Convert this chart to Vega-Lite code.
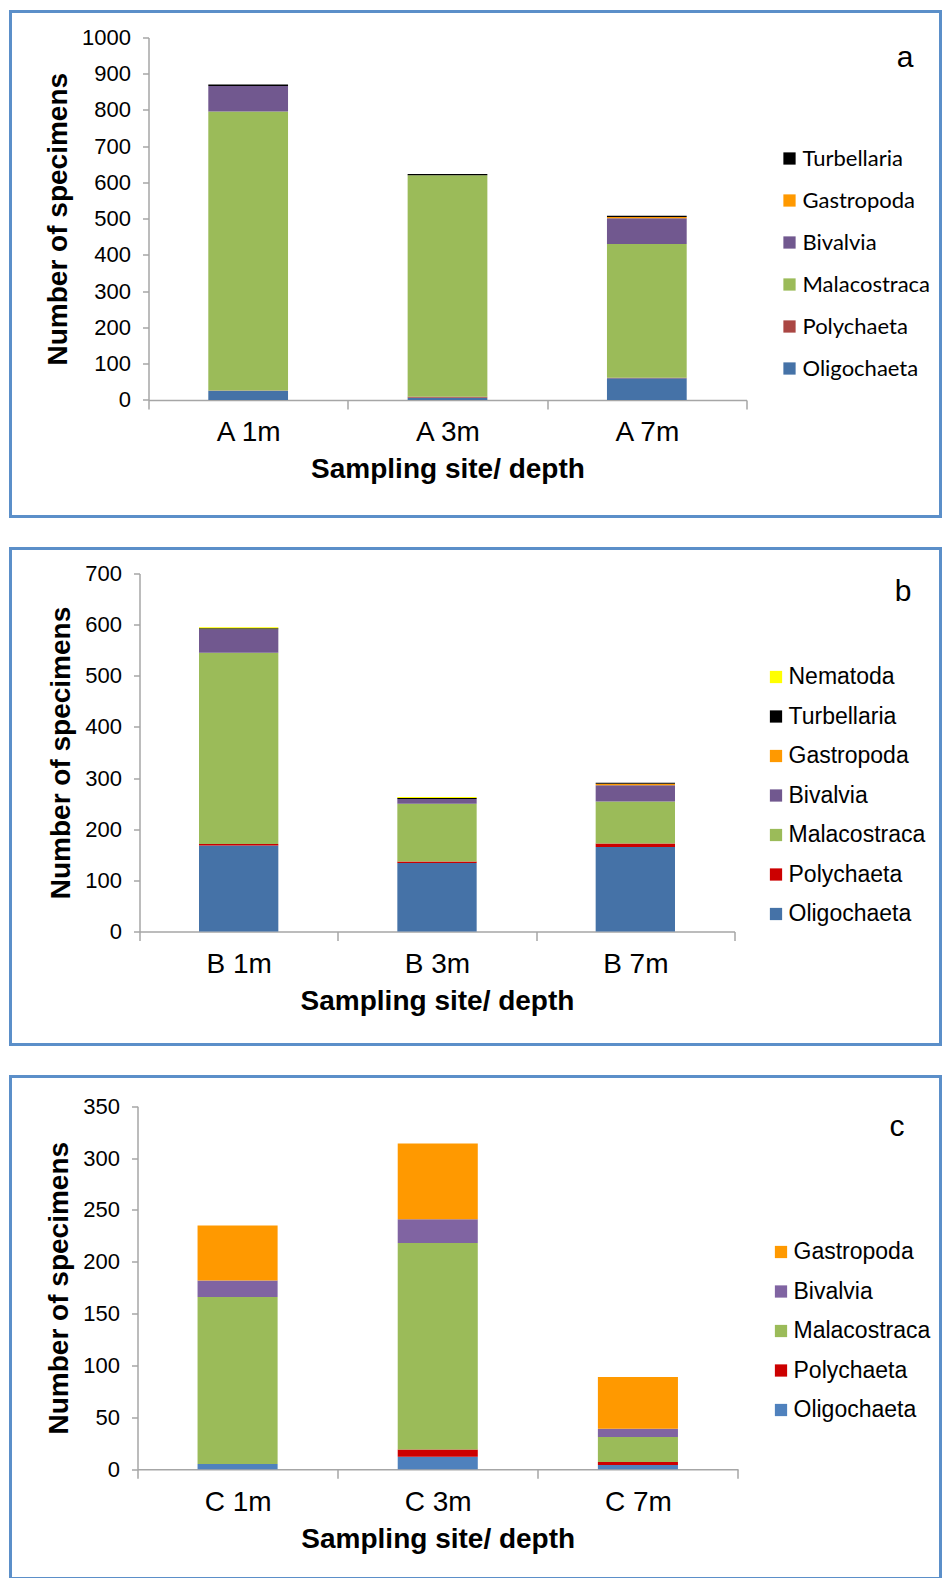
{
  "$schema": "https://vega.github.io/schema/vega-lite/v6.json",
  "background": "white",
  "padding": {"left": 8.5, "top": 9.5, "right": 0, "bottom": 0},
  "spacing": 28,
  "datasets": {
    "counts": [
      {"panel": "a", "site": "A 1m", "taxon": "Oligochaeta", "n": 25},
      {"panel": "a", "site": "A 1m", "taxon": "Polychaeta", "n": 1},
      {"panel": "a", "site": "A 1m", "taxon": "Malacostraca", "n": 770},
      {"panel": "a", "site": "A 1m", "taxon": "Bivalvia", "n": 70},
      {"panel": "a", "site": "A 1m", "taxon": "Turbellaria", "n": 4},
      {"panel": "a", "site": "A 3m", "taxon": "Oligochaeta", "n": 6},
      {"panel": "a", "site": "A 3m", "taxon": "Polychaeta", "n": 3},
      {"panel": "a", "site": "A 3m", "taxon": "Malacostraca", "n": 611},
      {"panel": "a", "site": "A 3m", "taxon": "Turbellaria", "n": 3},
      {"panel": "a", "site": "A 7m", "taxon": "Oligochaeta", "n": 60},
      {"panel": "a", "site": "A 7m", "taxon": "Polychaeta", "n": 1},
      {"panel": "a", "site": "A 7m", "taxon": "Malacostraca", "n": 369},
      {"panel": "a", "site": "A 7m", "taxon": "Bivalvia", "n": 71},
      {"panel": "a", "site": "A 7m", "taxon": "Gastropoda", "n": 4},
      {"panel": "a", "site": "A 7m", "taxon": "Turbellaria", "n": 3},

      {"panel": "b", "site": "B 1m", "taxon": "Oligochaeta", "n": 168},
      {"panel": "b", "site": "B 1m", "taxon": "Polychaeta", "n": 3},
      {"panel": "b", "site": "B 1m", "taxon": "Malacostraca", "n": 374},
      {"panel": "b", "site": "B 1m", "taxon": "Bivalvia", "n": 46},
      {"panel": "b", "site": "B 1m", "taxon": "Turbellaria", "n": 2},
      {"panel": "b", "site": "B 1m", "taxon": "Nematoda", "n": 2},
      {"panel": "b", "site": "B 3m", "taxon": "Oligochaeta", "n": 134},
      {"panel": "b", "site": "B 3m", "taxon": "Polychaeta", "n": 3},
      {"panel": "b", "site": "B 3m", "taxon": "Malacostraca", "n": 113},
      {"panel": "b", "site": "B 3m", "taxon": "Bivalvia", "n": 9},
      {"panel": "b", "site": "B 3m", "taxon": "Turbellaria", "n": 2},
      {"panel": "b", "site": "B 3m", "taxon": "Nematoda", "n": 2},
      {"panel": "b", "site": "B 7m", "taxon": "Oligochaeta", "n": 165},
      {"panel": "b", "site": "B 7m", "taxon": "Polychaeta", "n": 7},
      {"panel": "b", "site": "B 7m", "taxon": "Malacostraca", "n": 82},
      {"panel": "b", "site": "B 7m", "taxon": "Bivalvia", "n": 32},
      {"panel": "b", "site": "B 7m", "taxon": "Gastropoda", "n": 3},
      {"panel": "b", "site": "B 7m", "taxon": "Turbellaria", "n": 2},

      {"panel": "c", "site": "C 1m", "taxon": "Oligochaeta", "n": 5},
      {"panel": "c", "site": "C 1m", "taxon": "Malacostraca", "n": 161},
      {"panel": "c", "site": "C 1m", "taxon": "Bivalvia", "n": 16},
      {"panel": "c", "site": "C 1m", "taxon": "Gastropoda", "n": 53},
      {"panel": "c", "site": "C 3m", "taxon": "Oligochaeta", "n": 12},
      {"panel": "c", "site": "C 3m", "taxon": "Polychaeta", "n": 7},
      {"panel": "c", "site": "C 3m", "taxon": "Malacostraca", "n": 199},
      {"panel": "c", "site": "C 3m", "taxon": "Bivalvia", "n": 23},
      {"panel": "c", "site": "C 3m", "taxon": "Gastropoda", "n": 73},
      {"panel": "c", "site": "C 7m", "taxon": "Oligochaeta", "n": 4},
      {"panel": "c", "site": "C 7m", "taxon": "Polychaeta", "n": 3},
      {"panel": "c", "site": "C 7m", "taxon": "Malacostraca", "n": 24},
      {"panel": "c", "site": "C 7m", "taxon": "Bivalvia", "n": 8},
      {"panel": "c", "site": "C 7m", "taxon": "Gastropoda", "n": 50}
    ]
  },
  "config": {
    "font": "Liberation Sans",
    "view": {"stroke": "#5B8FC9", "strokeWidth": 3},
    "axis": {
      "grid": false,
      "domainColor": "#A6A6A6",
      "domainWidth": 1.5,
      "tickColor": "#A6A6A6",
      "tickWidth": 1.5,
      "labelColor": "black",
      "titleColor": "black",
      "labelFont": "Liberation Sans",
      "titleFont": "Liberation Sans",
      "titleFontWeight": "bold"
    },
    "axisY": {"tickSize": 6, "labelPadding": 12, "labelFontSize": 22, "titleFontSize": 28, "titlePadding": 9, "format": "d"},
    "axisX": {"tickSize": 9, "labelPadding": 10, "labelFontSize": 28, "titleFontSize": 28, "titlePadding": 9, "labelAngle": 0},
    "legend": {
      "symbolType": "square",
      "symbolSize": 150,
      "symbolStrokeWidth": 0,
      "labelFontSize": 23,
      "labelColor": "black",
      "labelOffset": 1,
      "labelLimit": 300
    },
    "title": {"font": "Liberation Sans", "fontSize": 30, "fontWeight": "normal", "color": "black"}
  },
  "vconcat": [
    {
      "width": 930,
      "height": 505,
      "title": {"text": "a", "anchor": "end", "frame": "group", "orient": "top", "offset": 0, "dx": -27, "dy": 85, "baseline": "alphabetic"},
      "data": {"name": "counts"},
      "transform": [
        {"filter": "datum.panel === 'a'"},
        {"calculate": "indexof(['Oligochaeta','Polychaeta','Malacostraca','Bivalvia','Gastropoda','Turbellaria','Nematoda'], datum.taxon)", "as": "stack_rank"}
      ],
      "layer": [
        {
          "mark": {"type": "bar"},
          "encoding": {
            "x": {
              "field": "site", "type": "nominal",
              "scale": {"range": [138, 736], "paddingInner": 0.6, "paddingOuter": 0.3},
              "axis": null
            },
            "y": {
              "field": "n", "type": "quantitative", "stack": "zero",
              "scale": {"domain": [0, 1000], "nice": false, "range": [388.4, 26]},
              "axis": {"offset": -138, "title": "Number of specimens", "values": [0, 100, 200, 300, 400, 500, 600, 700, 800, 900, 1000]}
            },
            "order": {"field": "stack_rank", "type": "quantitative", "sort": "ascending"},
            "color": {
              "field": "taxon", "type": "nominal",
              "scale": {
                "domain": ["Oligochaeta", "Polychaeta", "Malacostraca", "Bivalvia", "Gastropoda", "Turbellaria"],
                "range": ["#4572A7", "#AA4643", "#9BBB59", "#71588F", "#FF9900", "#000000"]
              },
              "legend": {
                "title": null, "orient": "none", "legendX": 768, "legendY": 136,
                "values": ["Turbellaria", "Gastropoda", "Bivalvia", "Malacostraca", "Polychaeta", "Oligochaeta"],
                "labelFont": "Lato", "labelFontSize": 22, "labelOffset": 2, "rowPadding": 20
              }
            }
          }
        },
        {
          "mark": {"type": "bar", "opacity": 0},
          "encoding": {
            "x": {
              "field": "site", "type": "nominal",
              "scale": {"range": [138, 736], "paddingInner": 0, "paddingOuter": 0},
              "axis": {"orient": "bottom", "offset": -116.6, "title": "Sampling site/ depth", "tickBand": "extent"}
            },
            "y": {"field": "n", "type": "quantitative", "stack": "zero"}
          }
        }
      ],
      "resolve": {"scale": {"x": "independent"}}
    },
    {
      "width": 930,
      "height": 496,
      "title": {"text": "b", "anchor": "end", "frame": "group", "orient": "top", "offset": 0, "dx": -29, "dy": 82, "baseline": "alphabetic"},
      "data": {"name": "counts"},
      "transform": [
        {"filter": "datum.panel === 'b'"},
        {"calculate": "indexof(['Oligochaeta','Polychaeta','Malacostraca','Bivalvia','Gastropoda','Turbellaria','Nematoda'], datum.taxon)", "as": "stack_rank"}
      ],
      "layer": [
        {
          "mark": {"type": "bar"},
          "encoding": {
            "x": {
              "field": "site", "type": "nominal",
              "scale": {"range": [129, 724], "paddingInner": 0.6, "paddingOuter": 0.3},
              "axis": null
            },
            "y": {
              "field": "n", "type": "quantitative", "stack": "zero",
              "scale": {"domain": [0, 700], "nice": false, "range": [383, 25]},
              "axis": {"offset": -129, "title": "Number of specimens", "values": [0, 100, 200, 300, 400, 500, 600, 700]}
            },
            "order": {"field": "stack_rank", "type": "quantitative", "sort": "ascending"},
            "color": {
              "field": "taxon", "type": "nominal",
              "scale": {
                "domain": ["Oligochaeta", "Polychaeta", "Malacostraca", "Bivalvia", "Gastropoda", "Turbellaria", "Nematoda"],
                "range": ["#4572A7", "#CC0000", "#9BBB59", "#71588F", "#FF9900", "#000000", "#FFFF00"]
              },
              "legend": {
                "title": null, "orient": "none", "legendX": 754, "legendY": 117,
                "values": ["Nematoda", "Turbellaria", "Gastropoda", "Bivalvia", "Malacostraca", "Polychaeta", "Oligochaeta"],
                "rowPadding": 15.5
              }
            }
          }
        },
        {
          "mark": {"type": "bar", "opacity": 0},
          "encoding": {
            "x": {
              "field": "site", "type": "nominal",
              "scale": {"range": [129, 724], "paddingInner": 0, "paddingOuter": 0},
              "axis": {"orient": "bottom", "offset": -113, "title": "Sampling site/ depth", "tickBand": "extent"}
            },
            "y": {"field": "n", "type": "quantitative", "stack": "zero"}
          }
        }
      ],
      "resolve": {"scale": {"x": "independent"}}
    },
    {
      "width": 930,
      "height": 502,
      "title": {"text": "c", "anchor": "end", "frame": "group", "orient": "top", "offset": 0, "dx": -36, "dy": 89, "baseline": "alphabetic"},
      "data": {"name": "counts"},
      "transform": [
        {"filter": "datum.panel === 'c'"},
        {"calculate": "indexof(['Oligochaeta','Polychaeta','Malacostraca','Bivalvia','Gastropoda','Turbellaria','Nematoda'], datum.taxon)", "as": "stack_rank"}
      ],
      "layer": [
        {
          "mark": {"type": "bar"},
          "encoding": {
            "x": {
              "field": "site", "type": "nominal",
              "scale": {"range": [127, 727.5], "paddingInner": 0.6, "paddingOuter": 0.3},
              "axis": null
            },
            "y": {
              "field": "n", "type": "quantitative", "stack": "zero",
              "scale": {"domain": [0, 350], "nice": false, "range": [392.7, 29.7]},
              "axis": {"offset": -127, "title": "Number of specimens", "values": [0, 50, 100, 150, 200, 250, 300, 350]}
            },
            "order": {"field": "stack_rank", "type": "quantitative", "sort": "ascending"},
            "color": {
              "field": "taxon", "type": "nominal",
              "scale": {
                "domain": ["Oligochaeta", "Polychaeta", "Malacostraca", "Bivalvia", "Gastropoda"],
                "range": ["#4F81BD", "#CC0000", "#9BBB59", "#8064A2", "#FF9900"]
              },
              "legend": {
                "title": null, "orient": "none", "legendX": 759, "legendY": 164,
                "values": ["Gastropoda", "Bivalvia", "Malacostraca", "Polychaeta", "Oligochaeta"],
                "rowPadding": 15.5
              }
            }
          }
        },
        {
          "mark": {"type": "bar", "opacity": 0},
          "encoding": {
            "x": {
              "field": "site", "type": "nominal",
              "scale": {"range": [127, 727.5], "paddingInner": 0, "paddingOuter": 0},
              "axis": {"orient": "bottom", "offset": -109.3, "title": "Sampling site/ depth", "tickBand": "extent"}
            },
            "y": {"field": "n", "type": "quantitative", "stack": "zero"}
          }
        }
      ],
      "resolve": {"scale": {"x": "independent"}}
    }
  ],
  "resolve": {
    "scale": {"x": "independent", "y": "independent", "color": "independent"},
    "legend": {"color": "independent"}
  }
}
